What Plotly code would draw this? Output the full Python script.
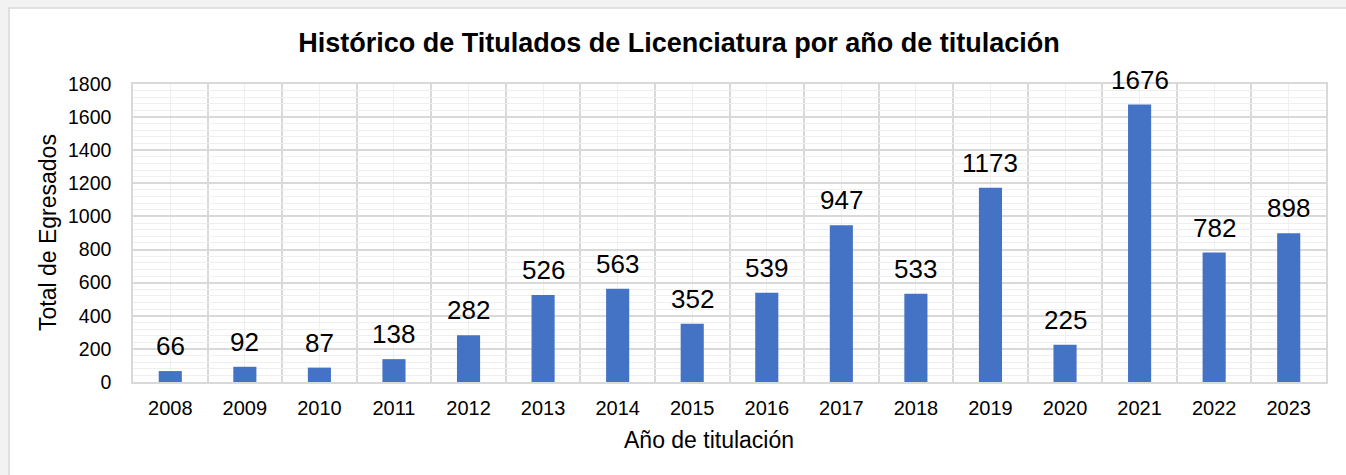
import plotly.graph_objects as go

years = ["2008", "2009", "2010", "2011", "2012", "2013", "2014", "2015",
         "2016", "2017", "2018", "2019", "2020", "2021", "2022", "2023"]
totals = [66, 92, 87, 138, 282, 526, 563, 352, 539, 947, 533, 1173, 225, 1676, 782, 898]
y_ticks = [0, 200, 400, 600, 800, 1000, 1200, 1400, 1600, 1800]

W, H = 1346, 475
ML, MR, MT, MB = 133, 20, 84, 93
PW, PH = W - ML - MR, H - MT - MB

FONT = "Liberation Sans, Arial, Helvetica, sans-serif"
idx = list(range(len(years)))

fig = go.Figure()
fig.add_trace(go.Bar(
    x=idx, y=totals,
    marker=dict(color="#4472C4", line=dict(width=0)),
    width=0.31,
    hoverinfo="x+y",
))

for i, v in zip(idx, totals):
    fig.add_annotation(x=i, y=v, text=str(v), showarrow=False,
                       yanchor="middle", yshift=25,
                       font=dict(size=26, color="#000000", family=FONT))

# axis titles
fig.add_annotation(xref="paper", yref="paper",
                   x=(709 - ML) / PW, y=-(440 - (H - MB)) / PH,
                   xanchor="center", yanchor="middle", showarrow=False,
                   text="Año de titulación",
                   font=dict(size=23, family=FONT, color="#000000"))
fig.add_annotation(xref="paper", yref="paper",
                   x=(48 - ML) / PW, y=0.5, textangle=-90,
                   xanchor="center", yanchor="middle", showarrow=False,
                   text="Total de Egresados",
                   font=dict(size=23, family=FONT, color="#000000"))

# light frame around the chart
fig.add_shape(type="rect", xref="paper", yref="paper",
              x0=(9 - ML) / PW, x1=(W + 20 - ML) / PW,
              y0=-(MB + 20) / PH, y1=(H - MB - 8) / PH,
              fillcolor="#ffffff", line=dict(color="#d9d9d9", width=1.5), layer="below")

fig.update_layout(
    width=W, height=H,
    margin=dict(l=ML, r=MR, t=MT, b=MB),
    paper_bgcolor="#f2f2f2",
    plot_bgcolor="#ffffff",
    showlegend=False,
    font=dict(family=FONT, color="#000000"),
    title=dict(text="<b>Histórico de Titulados de Licenciatura por año de titulación</b>",
               x=679 / W, xanchor="center", xref="container",
               y=1 - 43 / H, yanchor="middle", yref="container",
               font=dict(size=27, family=FONT, color="#000000")),
    xaxis=dict(
        range=[-0.5, len(years) - 0.5],
        tickmode="array", tickvals=idx, ticktext=years,
        showgrid=True, gridcolor="#efefef", gridwidth=1,
        minor=dict(tick0=0.5, dtick=1, showgrid=True, gridcolor="#d9d9d9", gridwidth=1.5),
        showline=True, linecolor="#d9d9d9", linewidth=1.5, mirror=True,
        ticks="", ticklabelstandoff=7,
        tickfont=dict(size=20, family=FONT, color="#000000"),
        zeroline=False, fixedrange=True,
    ),
    yaxis=dict(
        range=[0, 1800],
        tickmode="array", tickvals=y_ticks,
        showgrid=True, gridcolor="#d9d9d9", gridwidth=1.5,
        minor=dict(dtick=40, showgrid=True, gridcolor="#efefef", gridwidth=1),
        showline=True, linecolor="#d9d9d9", linewidth=1.5, mirror=True,
        ticks="", ticklabelstandoff=16,
        tickfont=dict(size=19.5, family=FONT, color="#000000"),
        zeroline=False, fixedrange=True,
    ),
)

fig.write_html("out.html", config={"displayModeBar": False},
               post_script="document.body.style.margin='0';")
